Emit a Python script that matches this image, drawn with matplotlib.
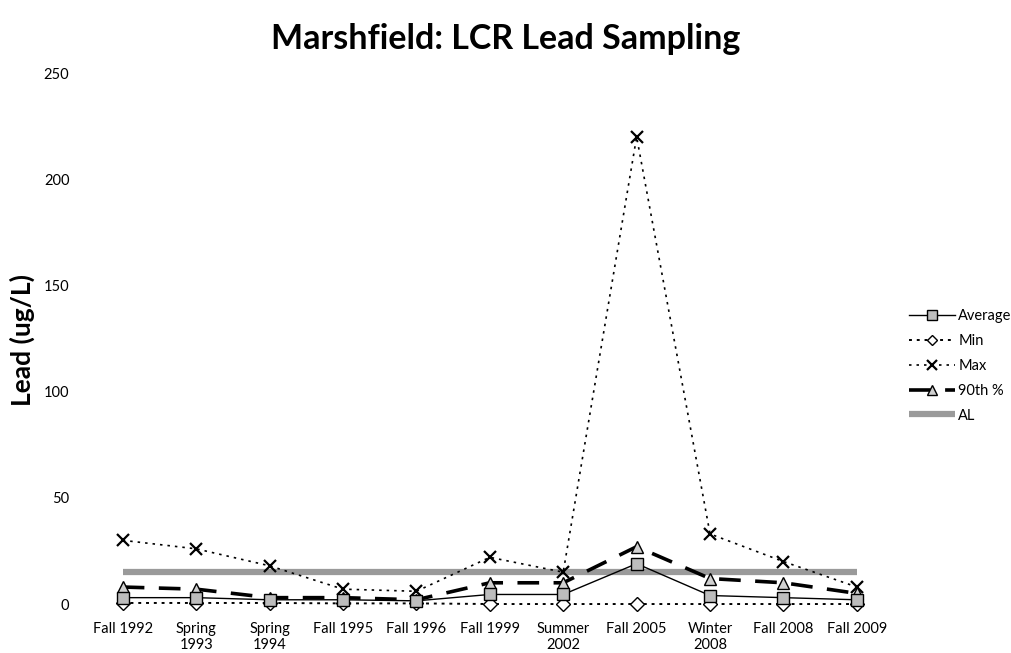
import numpy as np
import matplotlib.pyplot as plt

plt.rcParams['font.family'] = ['Lato', 'DejaVu Sans']

# sampling rounds and lead results (ug/L)
rounds = ['Fall 1992', 'Spring\n1993', 'Spring\n1994', 'Fall 1995', 'Fall 1996',
          'Fall 1999', 'Summer\n2002', 'Fall 2005', 'Winter\n2008', 'Fall 2008', 'Fall 2009']
average = [3, 3, 2, 2, 1.5, 4.5, 4.5, 19, 4, 3, 2]
minimum = [0.5, 0.5, 0.5, 0.3, 0.3, 0, 0, 0, 0, 0, 0]
maximum = [30, 26, 18, 7, 6, 22, 15, 220, 33, 20, 8]
p90 = [8, 7, 3, 3, 2, 10, 10, 27, 12, 10, 5]
action_level = [15] * len(rounds)

x = np.arange(len(rounds))

fig = plt.figure(figsize=(10.12, 6.53), dpi=100)
ax = fig.add_axes([0.085, 0.075, 0.798, 0.813])

ax.plot(x, action_level, color='#9a9a9a', lw=4.5, solid_capstyle='butt', label='AL', zorder=2)
ax.plot(x, maximum, color='black', lw=1.2, ls=(0, (1.5, 3)), marker='x', ms=9, mew=1.6,
        label='Max', zorder=3, clip_on=False)
ax.plot(x, minimum, color='black', lw=1.4, ls=(0, (1.5, 2.5)), marker='D', ms=7,
        mfc='white', mec='black', mew=1.0, label='Min', zorder=3, clip_on=False)
ax.plot(x, p90, color='black', lw=2.6, ls=(0, (6, 4)), marker='^', ms=9,
        mfc='#d0d0d0', mec='black', mew=1.0, label='90th %', zorder=4, clip_on=False)
ax.plot(x, average, color='black', lw=1.0, marker='s', ms=9,
        mfc='#bdbdbd', mec='black', mew=1.0, label='Average', zorder=5, clip_on=False)

ax.set_xlim(-0.5, len(rounds) - 0.5)
ax.set_ylim(0, 250)
ax.set_yticks(np.arange(0, 251, 50))
ax.set_xticks(x)
ax.set_xticklabels(rounds, fontsize=10.5, linespacing=1.15, va='top')
ax.tick_params(axis='both', length=0, labelsize=10.5)
ax.tick_params(axis='x', pad=13)
ax.tick_params(axis='y', pad=12)
for s in ax.spines.values():
    s.set_visible(False)

fig.text(0.022, 0.48, 'Lead (ug/L)', fontsize=19, fontweight='bold', rotation=90,
         ha='center', va='center')
fig.suptitle('Marshfield: LCR Lead Sampling', fontsize=24.5, fontweight='bold', y=0.965)

handles, labels = ax.get_legend_handles_labels()
order = ['Average', 'Min', 'Max', '90th %', 'AL']
hmap = dict(zip(labels, handles))
leg = fig.legend([hmap[k] for k in order], order, loc='center left',
                 bbox_to_anchor=(0.885, 0.44), frameon=False, fontsize=10.5,
                 handlelength=3.2, handletextpad=0.2, labelspacing=0.75, markerscale=0.8)

fig.savefig('out.png', dpi=100)
